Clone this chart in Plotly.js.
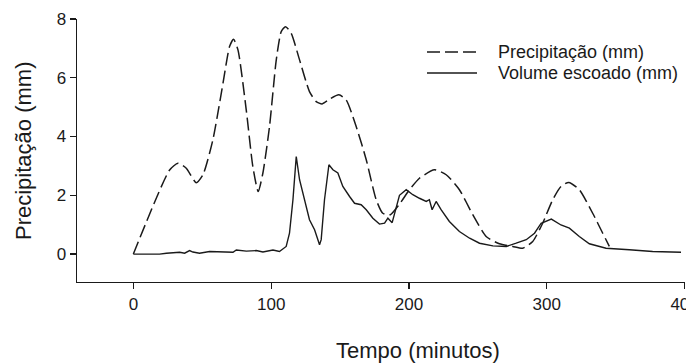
<!DOCTYPE html>
<html>
<head>
<meta charset="utf-8">
<script src="https://cdn.plot.ly/plotly-3.0.1.min.js"></script>
<style>html,body{margin:0;padding:0;background:#fff;}#chart{width:686px;height:363px;}</style>
</head>
<body>
<div id="chart"></div>
<script>
// Precipitação (mm) — dashed
const precipTime = [0, 26.3, 32.4, 38.4, 45.6, 50.5, 57.7, 65, 69.8, 72.7, 75.9, 81.9, 86.7, 90.6, 94, 98.8, 103.7, 107.3, 110.4, 114.5, 120.6, 127.8, 132.7, 137, 142.3, 149.1, 154.4, 161.7, 169, 176.2, 181, 186.5, 193.1, 200.4, 207.6, 218.5, 227, 236.6, 246.3, 256, 265.6, 275.3, 282.6, 289.8, 297, 304.3, 310.3, 315.9, 323.6, 333.3, 340.6, 345.4];
const precipValue = [0, 2.86, 3.09, 2.92, 2.43, 2.70, 3.89, 5.8, 7.06, 7.31, 6.95, 4.91, 2.98, 2.13, 2.76, 4.34, 6.61, 7.57, 7.74, 7.52, 6.61, 5.53, 5.19, 5.11, 5.27, 5.42, 5.25, 4.34, 3.21, 1.85, 1.39, 1.34, 1.70, 2.19, 2.58, 2.87, 2.70, 2.19, 1.34, 0.60, 0.35, 0.26, 0.20, 0.43, 1.05, 1.85, 2.30, 2.44, 2.19, 1.39, 0.71, 0.26];

// Volume escoado (mm) — solid
const runoffTime = [0, 19, 24, 33.6, 37.2, 40.8, 43.2, 48, 55.3, 65, 72.3, 74.7, 82, 89.2, 94, 101.3, 106, 110.9, 113.3, 115.8, 118.2, 120.6, 123, 125.4, 127.8, 131.5, 135.1, 136.3, 138.7, 141.9, 144.8, 148.4, 152, 156.9, 160.5, 165.3, 169, 173.8, 178.6, 182.3, 184.7, 187.8, 190.7, 193.1, 198, 202.8, 207.6, 212.5, 214.8, 216.8, 219.7, 223.3, 229.3, 236.6, 244, 251.2, 260.9, 270.6, 277.8, 285.1, 291.1, 295.9, 303.3, 310.3, 316.4, 323.6, 330.9, 343, 359.9, 376.8, 397.4];
const runoffValue = [0, 0, 0.03, 0.06, 0.03, 0.12, 0.07, 0.03, 0.09, 0.07, 0.06, 0.14, 0.10, 0.12, 0.07, 0.14, 0.09, 0.26, 0.71, 1.85, 3.32, 2.53, 2.07, 1.62, 1.17, 0.83, 0.32, 0.49, 1.85, 3.04, 2.87, 2.76, 2.30, 1.96, 1.73, 1.68, 1.51, 1.22, 1.02, 1.05, 1.22, 1.07, 1.62, 2.0, 2.19, 2.02, 1.90, 1.79, 1.85, 1.51, 1.79, 1.51, 1.11, 0.77, 0.54, 0.37, 0.28, 0.26, 0.37, 0.49, 0.71, 1.05, 1.19, 0.99, 0.88, 0.60, 0.35, 0.20, 0.15, 0.09, 0.06];

const seriesNames = ['Precipitação (mm)', 'Volume escoado (mm)'];
const xTicks = [0, 100, 200, 300, 400];
const yTicks = [0, 2, 4, 6, 8];
const xTitle = 'Tempo (minutos)';
const yTitle = 'Precipitação (mm)';

const FONT = 'Liberation Sans, Arial, sans-serif';
const INK = '#1a1a1a';
const DASH = '13px,5px';

// plot-area geometry (pixels) used to place legend/titles in paper coords
const W = 686, H = 363, L = 77, R = 1, T = 19, B = 81;
const PW = W - L - R, PH = H - T - B;
const px = v => (v - L) / PW;
const py = v => (H - B - v) / PH;

const traces = [
  {
    x: precipTime, y: precipValue, name: seriesNames[0], type: 'scatter', mode: 'lines',
    line: {color: INK, width: 1.5, dash: DASH, shape: 'spline', smoothing: 0.6}
  },
  {
    x: runoffTime, y: runoffValue, name: seriesNames[1], type: 'scatter', mode: 'lines',
    line: {color: INK, width: 1.4}
  }
];

const legendRows = [
  {y: 52, dash: DASH, text: seriesNames[0]},
  {y: 73, dash: 'solid', text: seriesNames[1]}
];

const shapes = legendRows.map(r => ({
  type: 'line', xref: 'paper', yref: 'paper',
  x0: px(427), x1: px(477), y0: py(r.y), y1: py(r.y),
  line: {color: INK, width: 1.5, dash: r.dash}
}));

const annotations = legendRows.map(r => ({
  text: r.text, xref: 'paper', yref: 'paper', x: px(496), y: py(r.y),
  xanchor: 'left', yanchor: 'middle', showarrow: false,
  font: {family: FONT, size: 18, color: INK}
}));

annotations.push({
  text: xTitle, xref: 'paper', yref: 'paper', x: px(418), y: py(350),
  xanchor: 'center', yanchor: 'middle', showarrow: false,
  font: {family: FONT, size: 22, color: INK}
});
annotations.push({
  text: yTitle, xref: 'paper', yref: 'paper', x: px(23), y: py(151),
  xanchor: 'center', yanchor: 'middle', showarrow: false, textangle: -90,
  font: {family: FONT, size: 22, color: INK}
});

const layout = {
  width: W, height: H,
  margin: {l: L, r: R, t: T, b: B},
  paper_bgcolor: '#fff', plot_bgcolor: '#fff',
  font: {family: FONT, color: INK, size: 17},
  showlegend: false,
  xaxis: {
    range: [-40.9, 400.3], tickvals: xTicks, ticktext: xTicks.map(String),
    showgrid: false, zeroline: false, showline: true, linecolor: INK, linewidth: 1.3,
    ticks: 'outside', ticklen: 6, tickwidth: 1.2, tickcolor: INK,
    ticklabeloverflow: 'allow',
    tickfont: {family: FONT, size: 17, color: INK}
  },
  yaxis: {
    range: [-0.95, 8.0], tickvals: yTicks, ticktext: yTicks.map(String),
    showgrid: false, zeroline: false, showline: true, linecolor: INK, linewidth: 1.3,
    ticks: 'outside', ticklen: 6, tickwidth: 1.2, tickcolor: INK,
    ticklabeloverflow: 'allow',
    tickfont: {family: FONT, size: 17, color: INK}
  },
  shapes: shapes,
  annotations: annotations
};

Plotly.newPlot('chart', traces, layout, {displayModeBar: false, staticPlot: true});
</script>
</body>
</html>
